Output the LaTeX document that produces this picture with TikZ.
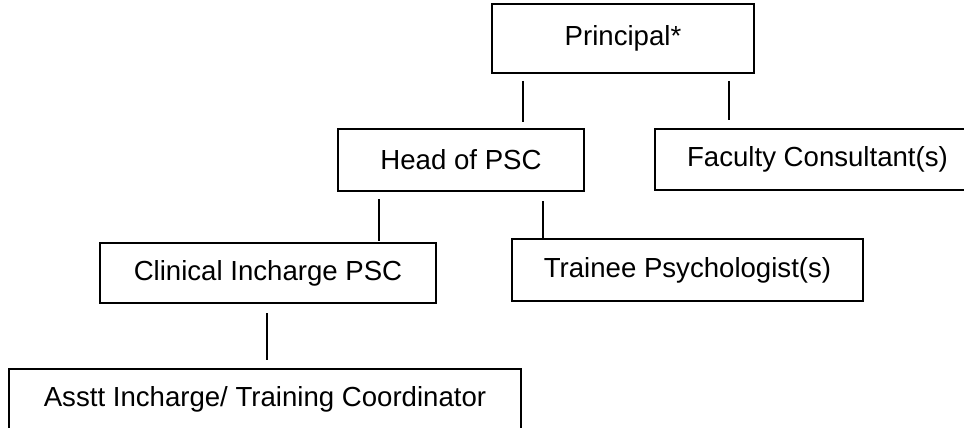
\documentclass[tikz,border=0pt]{standalone}
\usepackage{fontspec}
\setmainfont{Liberation Sans}
\usetikzlibrary{calc}
\begin{document}
\begin{tikzpicture}[x=1pt,y=1pt,
  orgbox/.style={draw=black,line width=1.4pt,inner sep=0pt,outer sep=0pt,anchor=north west,
    font=\fontsize{27.6}{33}\selectfont,text=black},
  link/.style={draw=black,line width=1.3pt}]
\clip (0,0) rectangle (964,-428);
\node[orgbox,minimum width=262,minimum height=69] (P) at (492,-4) {Principal*};
\node[orgbox,minimum width=246,minimum height=62] (H) at (338,-129) {Head of PSC};
\node[orgbox,minimum width=325,minimum height=61] (F) at (655,-129) {Faculty Consultant(s)};
\node[orgbox,minimum width=336,minimum height=60] (C) at (100,-243) {Clinical Incharge PSC};
\node[orgbox,minimum width=351,minimum height=62] (T) at (512,-239) {Trainee Psychologist(s)};
\node[orgbox,minimum width=512,minimum height=61] (A) at (9,-369) {Asstt Incharge/ Training Coordinator};
\draw[link] ($(P.south west)+(31,-8)$) -- ($(H.north west)+(185,7)$);
\draw[link] ($(P.south west)+(237,-8)$) -- ($(F.north west)+(74,9)$);
\draw[link] ($(H.south west)+(41,-8)$) -- ($(C.north west)+(279,2)$);
\draw[link] ($(H.south west)+(205,-10)$) -- ($(T.north west)+(31,0)$);
\draw[link] ($(C.south west)+(167,-10)$) -- ($(A.north west)+(258,9)$);
\end{tikzpicture}
\end{document}
